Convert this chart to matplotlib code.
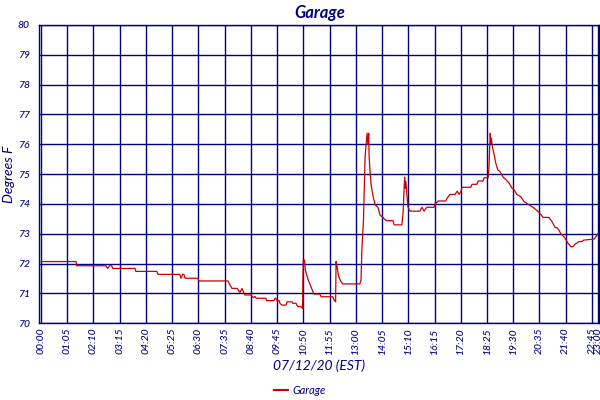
import matplotlib
matplotlib.use("Agg")
import matplotlib.pyplot as plt
from matplotlib.lines import Line2D

# ---- data (time of day, degrees F) ----
times = ["00:00", "01:27", "01:28", "02:41", "02:45", "02:50", "02:55", "02:58",
         "03:53", "03:55", "04:47", "04:50", "05:44", "05:47", "05:51", "05:54",
         "05:57", "06:29", "06:31", "07:43", "07:53", "08:06", "08:13", "08:18",
         "08:25", "08:40", "08:45", "08:50", "08:53", "09:17", "09:19", "09:37",
         "09:40", "09:42", "09:45", "09:50", "09:52", "09:57", "10:07", "10:10",
         "10:22", "10:24", "10:32", "10:34", "10:37", "10:44", "10:48", "10:49",
         "10:50", "10:52", "10:53", "10:55", "10:57", "11:02", "11:04", "11:09",
         "11:14", "11:16", "11:31", "11:34", "12:03", "12:06", "12:10", "12:11",
         "12:13", "12:16", "12:18", "12:23", "12:28", "13:10", "13:13", "13:15",
         "13:19", "13:23", "13:28", "13:30", "13:32", "13:33", "13:35", "13:38",
         "13:43", "13:48", "13:55", "14:00", "14:07", "14:15", "14:32", "14:35",
         "14:54", "14:57", "15:00", "15:01", "15:02", "15:04", "15:07", "15:09",
         "15:14", "15:39", "15:44", "15:49", "15:56", "16:14", "16:16", "16:24",
         "16:43", "16:46", "16:53", "17:06", "17:11", "17:16", "17:21", "17:23",
         "17:45", "17:48", "18:00", "18:03", "18:15", "18:18", "18:28", "18:30",
         "18:33", "18:35", "18:36", "18:38", "18:42", "18:47", "18:52", "18:57",
         "19:05", "19:12", "19:20", "19:27", "19:32", "19:39", "19:49", "19:57",
         "20:07", "20:19", "20:29", "20:36", "20:44", "20:58", "21:06", "21:14",
         "21:18", "21:23", "21:28", "21:36", "21:41", "21:46", "21:53", "21:58",
         "22:03", "22:13", "22:20", "22:25", "22:50", "22:55", "23:00"]
temps = [72.07, 72.07, 71.93, 71.93, 71.84, 71.93, 71.93, 71.84,
         71.84, 71.74, 71.74, 71.64, 71.64, 71.51, 71.64, 71.64,
         71.51, 71.51, 71.42, 71.42, 71.17, 71.17, 71.03, 71.17,
         70.95, 70.95, 70.86, 70.90, 70.84, 70.84, 70.76, 70.76,
         70.84, 70.84, 70.76, 70.76, 70.67, 70.61, 70.61, 70.72,
         70.72, 70.67, 70.67, 70.61, 70.56, 70.56, 70.50, 71.56,
         72.12, 72.05, 72.12, 71.79, 71.68, 71.45, 71.40, 71.23,
         71.05, 70.98, 70.98, 70.89, 70.89, 70.78, 70.72, 72.07,
         71.95, 71.68, 71.55, 71.40, 71.32, 71.32, 71.45, 72.46,
         73.46, 75.59, 76.37, 76.00, 76.37, 75.59, 75.14, 74.64,
         74.24, 73.97, 73.89, 73.63, 73.55, 73.44, 73.44, 73.30,
         73.30, 73.69, 74.64, 74.90, 74.53, 74.75, 74.24, 73.91,
         73.76, 73.76, 73.89, 73.76, 73.89, 73.89, 73.99, 74.10,
         74.10, 74.19, 74.32, 74.32, 74.43, 74.32, 74.43, 74.56,
         74.56, 74.66, 74.66, 74.77, 74.77, 74.88, 74.88, 75.25,
         76.37, 76.03, 76.20, 75.95, 75.70, 75.36, 75.14, 75.09,
         74.90, 74.82, 74.70, 74.53, 74.48, 74.32, 74.24, 74.08,
         73.99, 73.89, 73.78, 73.69, 73.55, 73.55, 73.41, 73.21,
         73.21, 73.13, 73.00, 72.90, 72.79, 72.68, 72.57, 72.57,
         72.65, 72.74, 72.74, 72.79, 72.82, 72.90, 73.00]

xtick_labels = ["00:00", "01:05", "02:10", "03:15", "04:20", "05:25", "06:30",
                "07:35", "08:40", "09:45", "10:50", "11:55", "13:00", "14:05",
                "15:10", "16:15", "17:20", "18:25", "19:30", "20:35", "21:40",
                "22:45", "23:00"]
ytick_values = [70, 71, 72, 73, 74, 75, 76, 77, 78, 79, 80]


def to_min(s):
    h, m = s.split(":")
    return int(h) * 60 + int(m)


xs = [to_min(t) for t in times]
xt = [to_min(t) for t in xtick_labels]

NAVY = "#000080"
RED = "#CC0000"
FONT = ["Lato", "DejaVu Sans"]

fig = plt.figure(figsize=(6, 4), dpi=100)
ax = fig.add_axes([39.5 / 600, 1 - 323.3 / 400, (599.3 - 39.5) / 600, (323.3 - 25) / 400])

ax.plot(xs, temps, color=RED, linewidth=0.9, label="Garage", zorder=3)

ax.set_xlim(-3.7, 1383.3)
ax.set_ylim(70, 80)
ax.set_xticks(xt)
ax.set_xticklabels(xtick_labels, rotation=90, fontstyle="italic", family=FONT,
                   fontsize=7.5, fontweight="medium", color=NAVY)
ax.set_yticks(ytick_values)
ax.set_yticklabels([str(v) for v in ytick_values], fontstyle="italic", family=FONT,
                   fontsize=7.5, fontweight="medium", color=NAVY)
ax.tick_params(axis="both", length=0)
ax.tick_params(axis="x", pad=3)
ax.tick_params(axis="y", pad=7)
ax.grid(True, color=NAVY, linewidth=1.0)
ax.set_axisbelow(True)
for sp in ax.spines.values():
    sp.set_color(NAVY)
    sp.set_linewidth(1.0)

ax.set_title("Garage", fontsize=12, fontweight="bold", fontstyle="italic",
             family=FONT, color=NAVY, pad=5)
ax.set_xlabel("07/12/20 (EST)", fontsize=10, fontstyle="italic", family=FONT,
              color=NAVY, labelpad=4)
ax.set_ylabel("Degrees F", fontsize=10, fontstyle="italic", family=FONT,
              color=NAVY, labelpad=2)

handle = Line2D([], [], color=RED, linewidth=1.5)
fig.legend([handle], ["Garage"], loc="center", bbox_to_anchor=(0.5, 1 - 390 / 400),
           frameon=False, handlelength=1.2, handletextpad=0.4,
           prop={"family": FONT, "style": "italic", "size": 8}, labelcolor=NAVY)

fig.savefig("out.png", dpi=100, facecolor="white")
